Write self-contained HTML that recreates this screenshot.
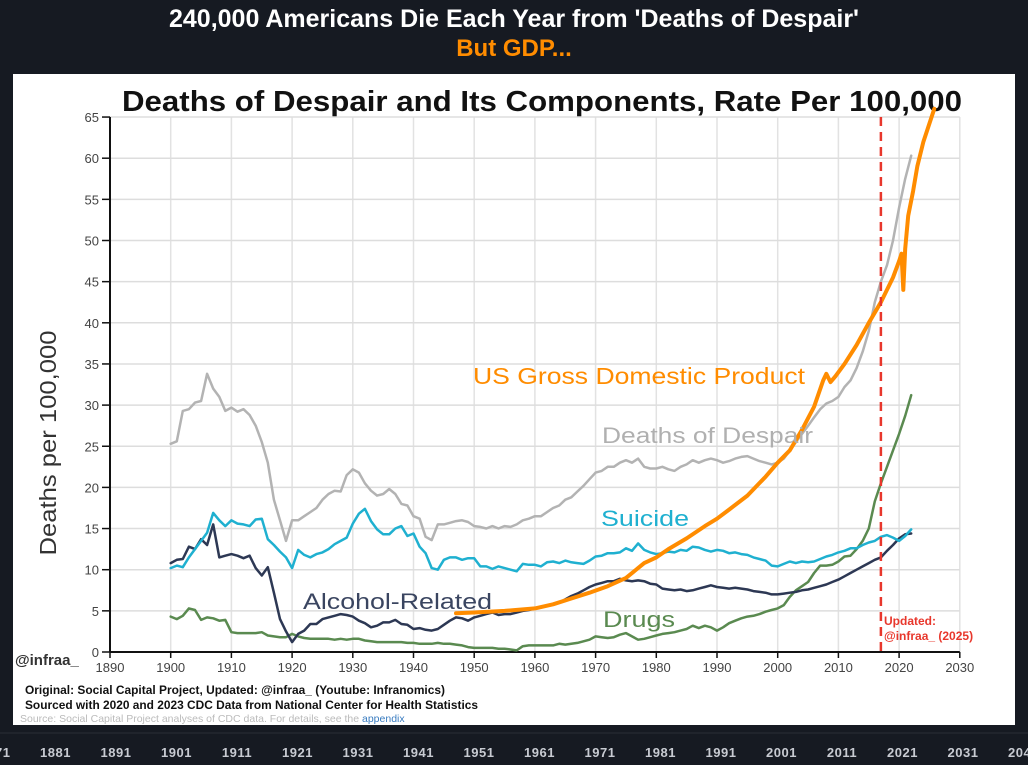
<!DOCTYPE html>
<html><head><meta charset="utf-8">
<style>
html,body{margin:0;padding:0;background:#161a22;width:1028px;height:765px;overflow:hidden;font-family:"Liberation Sans",sans-serif;}
</style></head>
<body>
<svg id="chart" width="1028" height="765" viewBox="0 0 1028 765" xmlns="http://www.w3.org/2000/svg">
<rect x="0" y="0" width="1028" height="765" fill="#161a22"/>
<text x="514" y="27" text-anchor="middle" font-size="25" font-weight="bold" fill="#ffffff">240,000 Americans Die Each Year from 'Deaths of Despair'</text>
<text x="514" y="56" text-anchor="middle" font-size="24" font-weight="bold" fill="#ff8c00">But GDP...</text>
<rect x="13" y="74" width="1002" height="651" fill="#ffffff"/>
<text x="122" y="111" font-size="29" font-weight="bold" fill="#111" textLength="840" lengthAdjust="spacingAndGlyphs">Deaths of Despair and Its Components, Rate Per 100,000</text>
<g id="grid"></g>
<g id="axes"></g>
<g id="series"></g>
<text transform="translate(56,443) rotate(-90)" text-anchor="middle" font-size="23" fill="#333" textLength="225" lengthAdjust="spacingAndGlyphs">Deaths per 100,000</text>
<text x="473" y="384" font-size="23" fill="#ff8c00" textLength="332" lengthAdjust="spacingAndGlyphs">US Gross Domestic Product</text>
<text x="602" y="443" font-size="22" fill="#b0b0b0" textLength="211" lengthAdjust="spacingAndGlyphs">Deaths of Despair</text>
<text x="601" y="526" font-size="22" fill="#1fb0d0" textLength="88" lengthAdjust="spacingAndGlyphs">Suicide</text>
<text x="303" y="609" font-size="22" fill="#3a4560" textLength="189" lengthAdjust="spacingAndGlyphs">Alcohol-Related</text>
<text x="603" y="627" font-size="22" fill="#5a8a50" textLength="72" lengthAdjust="spacingAndGlyphs">Drugs</text>
<text x="884" y="625" font-size="12" font-weight="bold" fill="#e8372c">Updated:</text>
<text x="884" y="640" font-size="12" font-weight="bold" fill="#e8372c">@infraa_ (2025)</text>
<text x="15" y="665" font-size="15" font-weight="bold" fill="#333">@infraa_</text>
<text x="25" y="694" font-size="12" font-weight="bold" fill="#111" textLength="420" lengthAdjust="spacingAndGlyphs">Original: Social Capital Project, Updated: @infraa_ (Youtube: Infranomics)</text>
<text x="25" y="709" font-size="12" font-weight="bold" fill="#111" textLength="453" lengthAdjust="spacingAndGlyphs">Sourced with 2020 and 2023 CDC Data from National Center for Health Statistics</text>
<text x="20" y="722" font-size="10.5" fill="#bbbbbb">Source: Social Capital Project analyses of CDC data. For details, see the <tspan fill="#3a7cc0">appendix</tspan></text>
<line x1="0" y1="733" x2="1028" y2="733" stroke="#2a2e36" stroke-width="1"/>
<g id="timeline"></g>
</svg>
<script>
const years = [];
for (let y = 1900; y <= 2022; y++) years.push(y);
const despair = [25.3,25.6,29.3,29.5,30.3,30.5,33.8,32,31,29.3,29.7,29.2,29.5,28.8,27.5,25.5,23,18.5,16,13.5,16,16,16.5,17,17.5,18.5,19.2,19.6,19.5,21.5,22.2,21.8,20.5,19.6,19,19.2,19.8,19.2,18,17.8,16.5,16.2,14,13.6,15.5,15.5,15.7,15.9,16,15.8,15.3,15.2,15,15.3,15,15.3,15.2,15.5,16,16.2,16.5,16.5,17,17.5,17.8,18.5,18.8,19.5,20.2,21,21.8,22,22.5,22.5,23,23.3,23,23.5,22.5,22.3,22.3,22.5,22.2,22,22.5,22.8,23.3,23,23.3,23.5,23.3,23,23.2,23.5,23.7,23.8,23.5,23.2,23,22.8,23,23.5,24.5,25.5,26.5,27.5,28.5,29.5,30.2,30.5,31,32.2,33,34.5,36.5,39,42.5,45,47,50,54,57.5,60.3];
const suicide = [10.2,10.5,10.3,11.5,12.5,13.5,14.5,16.9,16,15.3,16,15.6,15.5,15.3,16.1,16.2,13.7,13,12.2,11.5,10.2,12.4,11.8,11.5,11.9,12.1,12.5,13.1,13.5,13.9,15.6,16.8,17.4,15.9,14.9,14.3,14.3,15,15.3,14.1,14.4,12.8,12,10.2,10,11.2,11.5,11.5,11.2,11.4,11.4,10.4,10.4,10.1,10.4,10.2,10,9.8,10.7,10.6,10.6,10.4,10.9,11,10.8,11.1,10.9,10.8,10.7,11.1,11.6,11.7,12,12,12.1,12.6,12.3,13.2,12.4,12.1,11.9,12,12.2,12.1,12.4,12.3,12.8,12.7,12.4,12.2,12.4,12.3,12,12.1,11.9,11.8,11.5,11.3,11.1,10.5,10.4,10.7,11,10.8,11,10.9,11,11.3,11.6,11.8,12.1,12.3,12.6,12.6,13,13.3,13.5,14,14.2,13.9,13.5,14.1,14.9];
const alcohol = [10.8,11.2,11.3,12.8,12.5,13.7,13,15.5,11.5,11.7,11.9,11.7,11.4,11.7,10.2,9.3,10.3,7.2,4,2.5,1.2,2.2,2.6,3.4,3.4,4,4.2,4.4,4.6,4.5,4.3,3.8,3.5,3,3.2,3.6,3.6,3.9,3.4,3.3,2.8,2.9,2.7,2.6,2.8,3.3,3.8,4.2,4.1,3.8,4.2,4.4,4.6,4.8,4.5,4.6,4.6,4.8,5,5.1,5.3,5.4,5.6,5.8,6,6.4,6.8,7.1,7.5,7.9,8.2,8.4,8.6,8.6,8.9,8.7,8.6,8.7,8.6,8.3,8.2,7.7,7.6,7.5,7.6,7.4,7.5,7.7,7.9,8.1,7.9,7.8,7.7,7.8,7.7,7.6,7.4,7.3,7.2,7,7,7.1,7.2,7.3,7.5,7.6,7.8,8,8.2,8.5,8.8,9.2,9.6,10,10.4,10.8,11.2,11.5,12.3,13,13.8,14.3,14.4];
const drugs = [4.3,4,4.4,5.3,5.1,3.9,4.2,4.1,3.8,3.9,2.4,2.3,2.3,2.3,2.3,2.4,2,1.9,1.8,1.8,2.2,1.9,1.7,1.6,1.6,1.6,1.6,1.5,1.6,1.5,1.6,1.6,1.4,1.3,1.2,1.2,1.2,1.2,1.2,1.1,1.1,1,1,1,1.1,1,1,0.9,0.8,0.6,0.5,0.5,0.5,0.5,0.4,0.4,0.3,0.2,0.7,0.8,0.8,0.8,0.8,0.8,1,0.9,1,1.1,1.3,1.5,1.9,1.8,1.7,1.8,2.1,2.3,1.9,1.5,1.6,1.8,2,2.2,2.3,2.4,2.6,2.8,3.2,2.9,3.2,3,2.6,3,3.5,3.8,4.1,4.3,4.4,4.6,4.9,5.1,5.3,5.7,6.7,7.5,8,8.5,9.6,10.5,10.5,10.6,11,11.6,11.7,12.5,13.5,15,18.3,20.5,22.5,24.5,26.5,28.7,31.2];
const gdpYears = [1947,1950,1955,1960,1963,1966,1969,1972,1975,1978,1980,1982,1985,1988,1990,1992,1995,1998,2000,2002,2004,2006,2007.5,2008,2008.7,2009.5,2011,2013,2015,2017,2019,2020,2020.4,2020.7,2021,2021.5,2022.3,2023,2024,2025.8];
const gdp = [4.7,4.8,5.0,5.3,5.8,6.5,7.2,8.0,9.0,10.8,11.5,12.5,13.8,15.3,16.2,17.3,19.0,21.3,23,24.5,27,29.8,33,33.8,32.8,33.5,35,37.3,40,42.5,45.5,47.5,48.4,44,49,53,56,59,62,66];
const xTicks = [1890,1900,1910,1920,1930,1940,1950,1960,1970,1980,1990,2000,2010,2020,2030];
const yTicks = [0,5,10,15,20,25,30,35,40,45,50,55,60,65];
const timelineLabels = ["1871","1881","1891","1901","1911","1921","1931","1941","1951","1961","1971","1981","1991","2001","2011","2021","2031","2041"];
const updateYear = 2017;

const NS = "http://www.w3.org/2000/svg";
const X0 = 110, PXY = 6.07, Y0 = 652, PXV = 8.23;
function xs(y){ return X0 + (y - 1890) * PXY; }
function ys(v){ return Y0 - v * PXV; }
function mk(tag, attrs, parent){ const e = document.createElementNS(NS, tag); for (const k in attrs) e.setAttribute(k, attrs[k]); parent.appendChild(e); return e; }

const grid = document.getElementById('grid');
const axes = document.getElementById('axes');
const series = document.getElementById('series');
const tl = document.getElementById('timeline');

xTicks.forEach(t => {
  if (t > 1890) {
    const g = mk('line', {x1: xs(t), x2: xs(t), y1: ys(65), y2: Y0, stroke: '#e2e2e2', 'stroke-width': 1.5}, grid);
    
    
  }
  const tk = mk('line', {x1: xs(t), x2: xs(t), y1: Y0, y2: Y0 + 6, stroke: '#111', 'stroke-width': 1.5}, axes);
  
  
  const lb = mk('text', {x: xs(t), y: Y0 + 20, 'text-anchor': 'middle', 'font-size': 13, fill: '#444'}, axes);
  lb.textContent = t;
  
  
});
yTicks.forEach(t => {
  if (t > 0) {
    const g = mk('line', {x1: X0, x2: xs(2030), y1: ys(t), y2: ys(t), stroke: '#dddddd', 'stroke-width': 1.5}, grid);
    
    
  }
  const tk = mk('line', {x1: X0 - 8, x2: X0, y1: ys(t), y2: ys(t), stroke: '#111', 'stroke-width': 1.5}, axes);
  
  
  const lb = mk('text', {x: X0 - 11, y: ys(t) + 5, 'text-anchor': 'end', 'font-size': 13, fill: '#444'}, axes);
  lb.textContent = t;
  
  
});
const ya = mk('line', {x1: X0, x2: X0, y1: ys(65), y2: Y0, stroke: '#111', 'stroke-width': 2}, axes);


const xa = mk('line', {x1: X0, x2: xs(2030), y1: Y0, y2: Y0, stroke: '#111', 'stroke-width': 2}, axes);



function line(xsArr, vals, color, w, name){
  const d = vals.map((v, i) => (i ? 'L' : 'M') + xs(xsArr[i]).toFixed(1) + ',' + ys(v).toFixed(1)).join(' ');
  const p = mk('path', {d: d, fill: 'none', stroke: color, 'stroke-width': w, 'stroke-linejoin': 'round', 'stroke-linecap': 'round'}, series);
  
  
}
line(years, drugs, '#5a8a50', 2.5, 'drugs-line');
line(years, alcohol, '#2d3854', 2.5, 'alcohol-line');
line(years, suicide, '#1fb0d0', 2.5, 'suicide-line');
line(years, despair, '#b3b3b3', 2.5, 'despair-line');
line(gdpYears, gdp, '#ff8c00', 4, 'gdp-line');

const ul = mk('line', {x1: xs(updateYear), x2: xs(updateYear), y1: ys(65), y2: Y0, stroke: '#e8372c', 'stroke-width': 2.5, 'stroke-dasharray': '9,6'}, series);



timelineLabels.forEach((t, i) => {
  const lb = mk('text', {x: -5 + i * 60.5, y: 757, 'text-anchor': 'middle', 'font-size': 13, 'font-weight': 'bold', fill: '#c8cbd2', 'letter-spacing': '0.5'}, tl);
  lb.textContent = t;
  
  
});
</script>
</body></html>
